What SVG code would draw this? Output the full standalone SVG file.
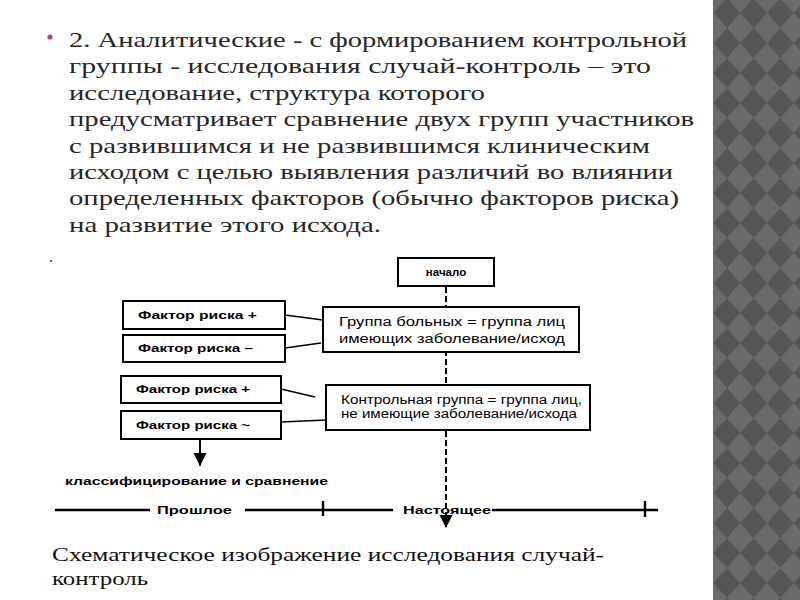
<svg xmlns="http://www.w3.org/2000/svg" width="800" height="600" viewBox="0 0 800 600">
<defs>
<pattern id="diam" patternUnits="userSpaceOnUse" x="727" y="13" width="26.67" height="30">
<rect width="26.67" height="30" fill="#555555"/>
<polygon points="13.33,0 26.67,15 13.33,30 0,15" fill="#6b6b6b"/>
</pattern>
<marker id="tri" viewBox="0 0 10 10" refX="10" refY="5" markerWidth="13" markerHeight="14" markerUnits="userSpaceOnUse" orient="auto">
<path d="M0,0 L10,5 L0,10 Z" fill="#000"/>
</marker>
<style>
.main{font-family:"Liberation Serif","DejaVu Serif",serif;font-size:21px;fill:#262626}
.cap{font-family:"Liberation Serif","DejaVu Serif",serif;font-size:19px;fill:#111}
.box{fill:#fff;stroke:#000;stroke-width:2}
.lbl{font-family:"Liberation Sans",Arial,sans-serif;font-weight:bold;font-size:11.5px;fill:#000}
.grp{font-family:"Liberation Sans",Arial,sans-serif;font-size:12.5px;fill:#000}
.ln{stroke:#000;stroke-width:1.6;fill:none}
.tl{stroke:#000;stroke-width:2.4;fill:none}
</style>
</defs>
<rect width="800" height="600" fill="#fff"/>
<rect x="713" y="0" width="87" height="600" fill="url(#diam)"/>

<g id="text">
<circle cx="50" cy="37" r="2.6" fill="#9b4f96"/>
<text class="main" x="69" y="47" textLength="618" lengthAdjust="spacingAndGlyphs">2. Аналитические - с формированием контрольной</text>
<text class="main" x="69" y="73.4" textLength="582" lengthAdjust="spacingAndGlyphs">группы - исследования случай-контроль – это</text>
<text class="main" x="69" y="99.8" textLength="416" lengthAdjust="spacingAndGlyphs">исследование, структура которого</text>
<text class="main" x="69" y="126.2" textLength="625" lengthAdjust="spacingAndGlyphs">предусматривает сравнение двух групп участников</text>
<text class="main" x="69" y="152.6" textLength="581" lengthAdjust="spacingAndGlyphs">с развившимся и не развившимся клиническим</text>
<text class="main" x="69" y="179" textLength="604" lengthAdjust="spacingAndGlyphs">исходом с целью выявления различий во влиянии</text>
<text class="main" x="69" y="205.4" textLength="610" lengthAdjust="spacingAndGlyphs">определенных факторов (обычно факторов риска)</text>
<text class="main" x="69" y="231.8" textLength="312" lengthAdjust="spacingAndGlyphs">на развитие этого исхода.</text>
<circle cx="51" cy="261" r="1" fill="#333"/>
<text class="cap" x="52" y="561" textLength="552" lengthAdjust="spacingAndGlyphs">Схематическое изображение исследования случай-</text>
<text class="cap" x="52" y="585" textLength="96" lengthAdjust="spacingAndGlyphs">контроль</text>
</g>

<g id="connectors">
<line class="ln" x1="285" y1="315" x2="323" y2="320"/>
<line class="ln" x1="285" y1="348" x2="321" y2="343"/>
<line class="ln" x1="281" y1="389" x2="315" y2="397"/>
<line class="ln" x1="281" y1="422" x2="326" y2="420"/>
<line x1="200" y1="439" x2="200" y2="466" stroke="#000" stroke-width="2" marker-end="url(#tri)"/>
<line x1="446" y1="287" x2="446" y2="528" stroke="#000" stroke-width="2" stroke-dasharray="6,3" marker-end="url(#tri)"/>
</g>

<g id="timeline">
<line class="tl" x1="55" y1="510" x2="150" y2="510"/>
<text class="lbl" x="157" y="514" textLength="75" lengthAdjust="spacingAndGlyphs">Прошлое</text>
<line class="tl" x1="245" y1="510" x2="393" y2="510"/>
<line class="tl" x1="323" y1="501" x2="323" y2="516"/>
<text class="lbl" x="403" y="514" textLength="88" lengthAdjust="spacingAndGlyphs">Настоящее</text>
<line class="tl" x1="492" y1="510" x2="658" y2="510"/>
<line class="tl" x1="645" y1="501" x2="645" y2="517"/>
<text class="lbl" x="65" y="485" textLength="263" lengthAdjust="spacingAndGlyphs">классифицирование и сравнение</text>
</g>

<g id="f1"><rect class="box" x="123" y="301" width="162" height="28"/><text class="lbl" x="138" y="319" textLength="119" lengthAdjust="spacingAndGlyphs">Фактор риска +</text></g>
<g id="f2"><rect class="box" x="123" y="335" width="162" height="27"/><text class="lbl" x="138" y="352" textLength="115" lengthAdjust="spacingAndGlyphs">Фактор риска –</text></g>
<g id="f3"><rect class="box" x="121" y="376" width="160" height="27"/><text class="lbl" x="136" y="393" textLength="114" lengthAdjust="spacingAndGlyphs">Фактор риска +</text></g>
<g id="f4"><rect class="box" x="121" y="411" width="160" height="28"/><text class="lbl" x="136" y="429" textLength="114" lengthAdjust="spacingAndGlyphs">Фактор риска ~</text></g>

<g id="start"><rect class="box" x="398" y="258" width="96" height="28"/><text class="lbl" x="446" y="276" text-anchor="middle">начало</text></g>

<g id="cases"><rect class="box" x="323" y="307" width="256" height="45"/>
<text class="grp" x="339" y="326" textLength="226" lengthAdjust="spacingAndGlyphs">Группа больных = группа лиц</text>
<text class="grp" x="339" y="343" textLength="226" lengthAdjust="spacingAndGlyphs">имеющих заболевание/исход</text></g>

<g id="controls"><rect class="box" x="326" y="385" width="264" height="45"/>
<text class="grp" x="341" y="404" textLength="241" lengthAdjust="spacingAndGlyphs">Контрольная группа = группа лиц,</text>
<text class="grp" x="341" y="418" textLength="236" lengthAdjust="spacingAndGlyphs">не имеющие заболевание/исхода</text></g>
</svg>
